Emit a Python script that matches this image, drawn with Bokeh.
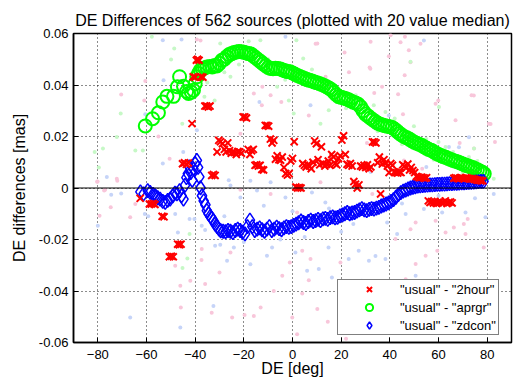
from bokeh.plotting import figure
from bokeh.models import FixedTicker, Legend, LegendItem, Span
from bokeh.embed import file_html
from bokeh.resources import INLINE

FONT = "Liberation Sans"

title_text = "DE Differences of 562 sources (plotted with 20 value median)"
x_label = "DE [deg]"
y_label = "DE differences [mas]"
x_ticks = [-80, -60, -40, -20, 0, 20, 40, 60, 80]
y_ticks = [-0.06, -0.04, -0.02, 0, 0.02, 0.04, 0.06]
y_tick_labels = ["-0.06", "-0.04", "-0.02", "0", "0.02", "0.04", "0.06"]
series_labels = ['"usual" - "2hour"', '"usual" - "aprgr"', '"usual" - "zdcon"']

# ---- 20-value medians -------------------------------------------------
green_de = [-60.5, -57.5, -55.1, -53.3, -51.6, -48.9, -47.3, -46.4, -44.8, -43.5, -42.7, -41.6,
            -40.7, -40.0, -39.3, -38.6, -37.9, -37.0, -36.1, -35.2, -34.0, -33.0, -32.0, -31.1,
            -30.0, -29.0, -28.0, -27.0, -26.0, -25.0, -24.0, -23.0, -22.0, -21.0, -20.0, -19.0,
            -18.0, -17.0, -16.0, -15.0, -14.0, -13.0, -12.0, -11.0, -10.0, -9.0, -8.0, -7.0,
            -6.0, -5.0, -4.0, -3.0, -2.0, -1.0, 0.0, 1.0, 2.0, 3.0, 4.0, 5.0, 6.0, 7.0, 8.0,
            9.0, 10.0, 11.0, 12.0, 13.0, 14.0, 15.0, 16.0, 17.0, 18.0, 19.0, 20.0, 21.0, 22.0,
            23.0, 24.0, 25.0, 26.0, 27.0, 28.0, 29.0, 30.0, 31.0, 32.0, 33.0, 34.0, 35.0, 36.0,
            37.0, 38.0, 39.0, 40.0, 41.0, 42.0, 43.0, 44.0, 45.0, 46.0, 47.0, 48.0, 49.0, 50.0,
            51.0, 52.0, 53.0, 54.0, 55.0, 56.0, 57.0, 58.0, 59.0, 60.0, 61.0, 62.0, 63.0, 64.0,
            65.0, 66.0, 67.0, 68.0, 69.0, 70.0, 71.0, 72.0, 73.0, 74.0, 75.0, 76.0, 77.0, 78.0, 78.8]
green_val = [0.0241, 0.0269, 0.0292, 0.0334, 0.0356, 0.0356, 0.0393, 0.0432, 0.0395, 0.0375, 0.0367, 0.0372,
             0.0380, 0.0405, 0.0432, 0.0445, 0.0457, 0.0462, 0.0466, 0.0470, 0.0472, 0.0470, 0.0476, 0.0474,
             0.0484, 0.0496, 0.0500, 0.0510, 0.0518, 0.0522, 0.0526, 0.0528, 0.0530, 0.0529, 0.0527, 0.0524,
             0.0522, 0.0520, 0.0512, 0.0505, 0.0497, 0.0490, 0.0482, 0.0475, 0.0468, 0.0464, 0.0463, 0.0465,
             0.0464, 0.0462, 0.0458, 0.0455, 0.0452, 0.0451, 0.0447, 0.0442, 0.0437, 0.0433, 0.0429, 0.0425,
             0.0421, 0.0418, 0.0416, 0.0412, 0.0409, 0.0406, 0.0402, 0.0398, 0.0393, 0.0388, 0.0382, 0.0372,
             0.0362, 0.0355, 0.0352, 0.0350, 0.0347, 0.0343, 0.0338, 0.0333, 0.0330, 0.0325, 0.0315, 0.0300,
             0.0287, 0.0280, 0.0272, 0.0265, 0.0258, 0.0252, 0.0248, 0.0245, 0.0242, 0.0240, 0.0238, 0.0235,
             0.0228, 0.0220, 0.0212, 0.0205, 0.0199, 0.0195, 0.0190, 0.0184, 0.0178, 0.0174, 0.0170, 0.0166,
             0.0160, 0.0155, 0.0150, 0.0147, 0.0141, 0.0135, 0.0130, 0.0126, 0.0122, 0.0119, 0.0115, 0.0111,
             0.0107, 0.0104, 0.0101, 0.0097, 0.0093, 0.0089, 0.0086, 0.0083, 0.0080, 0.0075, 0.0071, 0.0066,
             0.0061, 0.0055]

blue_de = [-62.5, -61.2, -59.5, -58.5, -57.3, -56.4, -55.4, -54.4, -53.3, -52.3, -51.3, -50.3, -49.2,
           -48.3, -47.5, -46.4, -45.6, -44.8, -44.2, -43.6, -43.0, -42.4, -41.8, -41.2, -40.7, -40.0,
           -39.3, -38.8, -38.3, -37.8, -37.2, -36.5, -35.8, -35.2, -34.5, -33.8, -33.1, -32.5, -31.8,
           -31.0, -30.2, -29.5, -28.5, -27.5, -26.5, -25.5, -24.5, -23.5, -22.5, -21.5, -20.5, -19.5,
           -18.5, -17.5, -16.5, -15.5, -14.5, -13.5, -12.5, -11.5, -10.5, -9.5, -8.5, -7.5, -6.5, -5.5,
           -4.5, -3.5, -2.5, -1.5, -0.5, 0.5, 1.5, 2.5, 3.5, 4.5, 5.5, 6.5, 7.5, 8.5, 9.5, 10.5, 11.5,
           12.5, 13.5, 14.5, 15.5, 16.5, 17.5, 18.5, 19.5, 20.5, 21.5, 22.5, 23.5, 24.5, 25.5, 26.5,
           27.5, 28.5, 29.5, 30.5, 31.5, 32.5, 33.5, 34.5, 35.5, 36.5, 37.5, 38.5, 39.5, 40.5, 41.5,
           42.5, 43.5, 44.5, 45.5, 46.5, 47.5, 48.5, 49.5, 50.5, 51.5, 52.5, 53.5, 54.5, 55.5, 56.5,
           57.5, 58.5, 59.5, 60.5, 61.5, 62.5, 63.5, 64.5, 65.5, 66.5, 67.5, 68.5, 69.5, 70.5, 71.5,
           72.5, 73.5, 74.5, 75.5, 76.5, 77.5, 78.5]
blue_val = [-0.0015, -0.0023, -0.0010, -0.0017, -0.0025, -0.0030, -0.0038, -0.0043, -0.0052, -0.0056,
            -0.0048, -0.0043, -0.0030, -0.0020, -0.0023, -0.0010, -0.0030, -0.0043, 0.0010, 0.0040,
            0.0056, 0.0082, 0.0060, 0.0030, 0.0074, 0.0095, 0.0107, 0.0080, 0.0043, 0.0001, -0.0030,
            -0.0050, -0.0065, -0.0088, -0.0100, -0.0110, -0.0118, -0.0127, -0.0140, -0.0150, -0.0160,
            -0.0166, -0.0168, -0.0170, -0.0165, -0.0168, -0.0173, -0.0165, -0.0160, -0.0165, -0.0172,
            -0.0178, -0.0150, -0.0125, -0.0150, -0.0165, -0.0160, -0.0155, -0.0162, -0.0168, -0.0160,
            -0.0150, -0.0165, -0.0160, -0.0152, -0.0158, -0.0162, -0.0155, -0.0150, -0.0153, -0.0150,
            -0.0145, -0.0140, -0.0135, -0.0128, -0.0134, -0.0138, -0.0130, -0.0125, -0.0130, -0.0127,
            -0.0122, -0.0127, -0.0120, -0.0118, -0.0122, -0.0115, -0.0112, -0.0116, -0.0114, -0.0108,
            -0.0105, -0.0100, -0.0095, -0.0100, -0.0097, -0.0095, -0.0090, -0.0085, -0.0080, -0.0085,
            -0.0088, -0.0083, -0.0080, -0.0082, -0.0078, -0.0075, -0.0070, -0.0066, -0.0062, -0.0058,
            -0.0052, -0.0045, -0.0036, -0.0026, -0.0018, -0.0012, -0.0008, -0.0004, 0.0000, 0.0003,
            0.0005, 0.0007, 0.0008, 0.0009, 0.0010, 0.0011, 0.0012, 0.0012, 0.0013, 0.0014, 0.0014,
            0.0015, 0.0015, 0.0016, 0.0017, 0.0017, 0.0018, 0.0018, 0.0019, 0.0020, 0.0020, 0.0021,
            0.0022, 0.0022, 0.0023, 0.0024, 0.0025, 0.0026, 0.0026]

red_de = [-62.6, -58.8, -58.0, -57.2, -56.5, -53.6, -52.8, -50.6, -49.8, -49.0, -47.2, -46.5, -45.8,
          -45.2, -44.4, -43.6, -42.8, -41.3, -40.8, -40.0, -39.5, -39.0, -38.4, -37.6, -36.8, -36.0,
          -35.3, -34.6, -33.9, -33.2, -32.5, -31.8, -31.0, -30.3, -29.6, -28.8, -28.0, -27.3, -26.6,
          -25.9, -25.2, -24.5, -23.8, -23.1, -22.4, -21.7, -21.0, -20.3, -19.6, -18.9, -18.2, -17.5,
          -16.8, -16.1, -15.4, -14.7, -14.0, -13.3, -12.6, -11.9, -11.2, -10.5, -9.8, -9.1, -8.4,
          -7.7, -7.0, -6.3, -5.6, -4.9, -4.2, -3.5, -2.8, -2.1, -1.4, -0.7, 0.0, 0.7, 1.4, 2.1, 2.8,
          3.5, 4.2, 4.9, 5.6, 6.3, 7.0, 7.7, 8.4, 9.1, 9.8, 10.5, 11.2, 11.9, 12.6, 13.3, 14.0, 14.7,
          15.4, 16.1, 16.8, 17.5, 18.2, 18.9, 19.6, 20.3, 21.0, 21.7, 22.4, 23.1, 23.8, 24.5, 25.2,
          25.9, 26.6, 27.3, 28.0, 28.7, 29.4, 30.1, 30.8, 31.5, 32.2, 32.9, 33.6, 34.3, 35.0, 35.7,
          36.2, 36.9, 37.6, 38.3, 39.0, 39.7, 40.4, 41.1, 41.8, 42.5, 43.2, 43.9, 44.6, 45.3, 46.0,
          46.7, 47.4, 48.1, 48.8, 49.5, 50.2, 50.9, 51.6, 52.3, 53.0, 53.7, 54.4, 55.1, 55.8, 56.5,
          57.2, 57.9, 58.6, 59.3, 60.0, 60.7, 61.4, 62.1, 62.8, 63.5, 64.2, 64.9, 65.6, 66.3, 67.0,
          67.7, 68.4, 69.1, 69.8, 70.5, 71.2, 71.9, 72.6, 73.3, 74.0, 74.7, 75.4, 76.1, 76.8, 77.5, 78.2]
red_val = [-0.0040, -0.0062, -0.0062, -0.0060, -0.0064, -0.0110, -0.0112, -0.0267, -0.0265, -0.0267,
           -0.0218, -0.0220, -0.0218, 0.0094, 0.0098, 0.0092, 0.0097, 0.0250, 0.0432, 0.0430, 0.0496,
           0.0500, 0.0496, 0.0432, 0.0430, 0.0318, 0.0318, 0.0315, 0.0318, 0.0049, 0.0052, 0.0049,
           0.0140, 0.0185, 0.0180, 0.0172, 0.0150, 0.0140, 0.0175, 0.0145, 0.0135, 0.0140, 0.0138,
           0.0130, 0.0142, 0.0140, 0.0135, 0.0276, 0.0276, 0.0272, 0.0150, 0.0130, 0.0145, 0.0150,
           0.0088, 0.0090, 0.0085, 0.0088, 0.0072, 0.0070, 0.0243, 0.0243, 0.0240, 0.0190, 0.0175,
           0.0185, 0.0112, 0.0125, 0.0110, 0.0108, 0.0120, 0.0080, 0.0056, 0.0050, 0.0056, 0.0105,
           0.0115, 0.0180, 0.0004, 0.0000, 0.0002, 0.0000, 0.0095, 0.0088, 0.0082, 0.0090, 0.0085,
           0.0075, 0.0100, 0.0183, 0.0172, 0.0110, 0.0090, 0.0160, 0.0095, 0.0085, 0.0092, 0.0105,
           0.0088, 0.0130, 0.0120, 0.0095, 0.0090, 0.0115, 0.0125, 0.0186, 0.0203, 0.0130, 0.0092,
           0.0088, 0.0095, 0.0085, 0.0025, 0.0015, 0.0000, 0.0012, 0.0085, 0.0082, 0.0088, 0.0080,
           0.0090, 0.0075, 0.0082, 0.0179, 0.0179, 0.0175, 0.0098, 0.0120, -0.0023, 0.0093, 0.0110,
           0.0098, 0.0085, 0.0060, 0.0095, 0.0088, 0.0062, 0.0060, 0.0058, 0.0062, 0.0060, 0.0090,
           0.0085, 0.0078, 0.0093, 0.0070, 0.0080, 0.0068, 0.0060, 0.0045, 0.0043, 0.0040, 0.0042,
           0.0040, 0.0038, 0.0040, -0.0050, -0.0056, -0.0052, -0.0058, -0.0055, -0.0060, -0.0056,
           -0.0052, -0.0058, -0.0056, -0.0050, -0.0060, -0.0056, -0.0054, -0.0058, 0.0038, 0.0040,
           0.0038, 0.0036, 0.0040, 0.0038, 0.0036, 0.0040, 0.0038, 0.0037, 0.0035, 0.0036, 0.0034,
           0.0032, 0.0030, 0.0030, 0.0028, 0.0028]

# ---- raw (unsmoothed) differences, faint dots --------------------------
red_raw_de = [-60.5, -70.4, -80.1, -72.2, -50.5, -55.1, -39.3, -60.9, -77.0, -77.4, -74.7, -79.3,
              -64.6, -66.7, -48.2, -46.1, -45.9, -42.0, -37.3, -37.4, -35.9, -33.2, -30.0, -24.8,
              -15.9, -13.1, -7.7, 1.9, -0.1, 4.0, 6.7, 10.2, 14.5, -25.5, -4.2, -1.1, 7.4, 19.7, 4.0,
              -9.0, 1.9, 11.5, 50.6, 48.5, 59.5, 62.9, 66.3, 70.4, 72.0, 78.6, 54.7, 46.5, 42.3, 50.6,
              32.8, 58.8, 71.1, 40.3, 46.2, 32.1, 47.8, 39.6, 31.7, 46.1, 36.8, 43.4, 73.6, 33.6, 80.7,
              67.0, 45.4, 59.9, 83.2, 30.6, 68.7, 74.6, 45.8, 53.3, 10.2, 21.4, -15.9, -9.0, -4.6, 13.6,
              -12.4, 6.7, -21.4, -12.6, 18.4, 9.5, 23.2, 32.0, 44.4, 52.6, 48.5, 58.8, 74.5, 81.4,
              -37.8, -72.0, -21.4, -80.3, 22.0, -19.7]
red_raw_val = [0.0416, 0.0363, 0.0025, 0.0036, 0.0114, 0.0200, 0.0577, 0.0340, -0.0007, -0.0010, -0.0075,
               -0.0108, -0.0062, -0.0114, -0.0302, -0.0380, -0.0464, -0.0360, -0.0237, -0.0280, -0.0373,
               -0.0484, -0.0328, -0.0503, -0.0497, -0.0464, -0.0400, -0.0568, -0.0503, -0.0410, -0.0358,
               -0.0470, -0.0519, -0.0250, -0.0341, -0.0289, -0.0276, -0.0289, -0.0244, -0.0023, -0.0095,
               0.0022, -0.0134, -0.0160, -0.0244, -0.0173, -0.0153, -0.0140, -0.0120, -0.0231, -0.0263,
               -0.0354, -0.0198, -0.0295, -0.0023, -0.0127, -0.0179, 0.0593, 0.0587, 0.0568, 0.0535,
               0.0512, 0.0468, 0.0438, 0.0393, 0.0364, 0.0360, 0.0369, 0.0250, 0.0263, 0.0286, 0.0340,
               0.0179, 0.0175, 0.0175, 0.0153, 0.0107, 0.0075, 0.0561, 0.0526, 0.0367, 0.0360, 0.0334,
               0.0432, 0.0393, 0.0282, 0.0211, 0.0321, 0.0347, 0.0560, 0.0450, 0.0463, 0.0566, 0.0560,
               0.0488, 0.0327, 0.0359, 0.0249, 0.0573, 0.0028, -0.0007, 0.0024, -0.0585, -0.0493]

blue_raw_de = [-53.3, -45.6, -60.5, -53.3, -76.3, -44.9, -39.3, -53.0, -74.5, -70.4, -80.0, -60.7,
               -59.3, -48.2, -47.1, -42.3, -40.3, -37.3, -35.9, -31.8, -29.7, -66.7, -46.1, -32.5,
               -21.4, -14.6, -11.8, -26.9, -24.1, -17.3, -10.5, -8.4, 1.2, 6.0, 10.8, 14.8, 13.5, 8.0,
               -2.9, 16.2, 23.1, 27.2, 28.5, -9.0, -25.5, 31.4, 34.1, 38.2, 43.0, 38.9, 46.5, 54.0,
               61.5, 71.1, 79.3, 82.7, 50.6, 54.0, 68.4, 72.5, -13.6, 7.4, -2.9, -26.2, -17.3, 39.6,
               64.3, 55.0, 32.1, 68.4, -20.0, -5.0, 5.0, 20.0, 25.0, -28.0, 0.0, 15.0, 45.0, 60.0, 75.0]
blue_raw_val = [0.0574, 0.0577, 0.0286, 0.0095, 0.0043, 0.0140, 0.0224, 0.0418, -0.0026, -0.0021, -0.0147,
                -0.0101, -0.0110, -0.0101, -0.0173, -0.0120, -0.0120, -0.0147, -0.0163, -0.0224, -0.0220,
                -0.0503, -0.0542, -0.0458, -0.0037, -0.0010, -0.0069, -0.0283, -0.0231, -0.0296, -0.0263,
                -0.0231, -0.0250, -0.0321, -0.0315, -0.0231, -0.0056, -0.0017, -0.0037, -0.0348, -0.0276,
                -0.0244, -0.0360, 0.0022, 0.0010, -0.0283, -0.0264, -0.0276, -0.0179, -0.0134, -0.0101,
                -0.0082, -0.0095, -0.0095, -0.0114, -0.0023, -0.0341, 0.0573, 0.0158, 0.0197, 0.0334,
                0.0321, 0.0587, 0.0030, 0.0028, 0.0282, 0.0159, 0.0082, 0.0062, 0.0043, -0.0210, -0.0200,
                -0.0190, -0.0170, -0.0140, -0.0110, -0.0090, -0.0080, -0.0060, -0.0030, -0.0040]

green_raw_de = [-57.8, -48.6, -49.9, -70.6, -72.2, -64.6, -61.5, -77.9, -81.3, -45.3, -36.2, -29.7,
                -32.0, -79.6, -25.5, -6.3, -1.5, 0.5, 11.5, 14.9, 4.4, 1.6, -13.2, 29.3, 48.5, 33.4,
                38.2, 49.9, 60.2, 60.0, 62.9, 72.5, 80.7, 82.7, 74.6, -42.3, -43.2, -45.2, -22.0, -18.0,
                -10.0, -3.0, 8.0, 18.0, 22.0, 26.0, 35.0, 42.0, 45.0, 55.0, 58.0, 66.0, 70.0, 76.0,
                -38.0, -35.0, -28.0, -40.0]
green_raw_val = [0.0587, 0.0542, 0.0499, 0.0289, 0.0198, 0.0146, 0.0146, 0.0153, 0.0140, 0.0250, 0.0354,
                 0.0561, 0.0340, 0.0080, 0.0432, 0.0393, 0.0340, 0.0289, 0.0250, 0.0302, 0.0503, 0.0574,
                 0.0574, 0.0315, 0.0490, 0.0321, 0.0295, 0.0240, 0.0315, 0.0179, 0.0159, 0.0120, 0.0056,
                 0.0036, 0.0153, -0.0179, -0.0274, -0.0311, 0.0480, 0.0570, 0.0500, 0.0420, 0.0460,
                 0.0390, 0.0310, 0.0360, 0.0220, 0.0270, 0.0170, 0.0190, 0.0110, 0.0140, 0.0060, 0.0105,
                 0.0500, 0.0410, 0.0450, 0.0380]

# ---- figure ------------------------------------------------------------
p = figure(width=517, height=381, x_range=(-90, 90), y_range=(-0.06, 0.06),
           output_backend="svg", toolbar_location=None,
           min_border_left=73, min_border_right=6, min_border_top=33, min_border_bottom=39)
p.background_fill_color = "white"
p.border_fill_color = "white"
p.outline_line_color = "black"
p.outline_line_width = 1.5

p.title.text = title_text
p.title.align = "center"
p.title.text_font = FONT
p.title.text_font_size = "16px"
p.title.text_font_style = "normal"
p.title.text_color = "black"
p.title.standoff = 10

p.xaxis.ticker = FixedTicker(ticks=x_ticks)
p.yaxis.ticker = FixedTicker(ticks=y_ticks)
p.yaxis.major_label_overrides = dict(zip(y_ticks, y_tick_labels))
p.xaxis.axis_label = x_label
p.yaxis.axis_label = y_label
for ax in (p.xaxis[0], p.yaxis[0]):
    ax.axis_label_text_font = FONT
    ax.axis_label_text_font_size = "16px"
    ax.axis_label_text_font_style = "normal"
    ax.axis_label_text_color = "black"
    ax.major_label_text_font = FONT
    ax.major_label_text_font_size = "13px"
    ax.major_label_text_color = "black"
    ax.major_tick_in = 5
    ax.major_tick_out = 0
    ax.minor_tick_in = 0
    ax.minor_tick_out = 0
    ax.axis_line_width = 1.5
    ax.axis_line_color = "black"
    ax.major_tick_line_color = "black"
p.xaxis.major_label_standoff = 7
p.xaxis.axis_label_standoff = -2
p.yaxis.major_label_standoff = 5
p.yaxis.axis_label_standoff = 8

p.xgrid.ticker = FixedTicker(ticks=x_ticks)
p.ygrid.ticker = FixedTicker(ticks=y_ticks)
for g in (p.xgrid[0], p.ygrid[0]):
    g.grid_line_color = "black"
    g.grid_line_dash = "1 3"
    g.grid_line_width = 1
    g.grid_line_alpha = 0.9

# faint raw data
p.scatter(red_raw_de, red_raw_val, marker="circle", size=4, fill_color="#f8c6da", line_color=None)
p.scatter(blue_raw_de, blue_raw_val, marker="circle", size=4, fill_color="#c6d4f8", line_color=None)
p.scatter(green_raw_de, green_raw_val, marker="circle", size=4, fill_color="#c6f8c6", line_color=None)

p.add_layout(Span(location=0, dimension="width", line_color="black", line_width=1))

r_green = p.scatter(green_de, green_val, marker="circle", size=13, fill_color=None,
                    line_color="#00ff00", line_width=2)
r_blue = p.scatter(blue_de, blue_val, marker="diamond", size=14, fill_color=None,
                   line_color="#0000ff", line_width=1.5)
r_red = p.scatter(red_de, red_val, marker="x", size=10, line_color="#ff0000", line_width=2)

legend = Legend(items=[LegendItem(label=series_labels[0], renderers=[r_red]),
                       LegendItem(label=series_labels[1], renderers=[r_green]),
                       LegendItem(label=series_labels[2], renderers=[r_blue])],
                location=(264, 7))
legend.label_text_font = FONT
legend.label_text_font_size = "13px"
legend.label_text_color = "black"
legend.border_line_color = "black"
legend.border_line_width = 1.5
legend.background_fill_color = "white"
legend.background_fill_alpha = 1
legend.padding = 0
legend.spacing = 0
legend.margin = 0
legend.glyph_width = 62
legend.glyph_height = 18
legend.label_height = 18
legend.label_standoff = 0
legend.label_width = 98
p.add_layout(legend)

open("out.html", "w").write(file_html(p, INLINE))
